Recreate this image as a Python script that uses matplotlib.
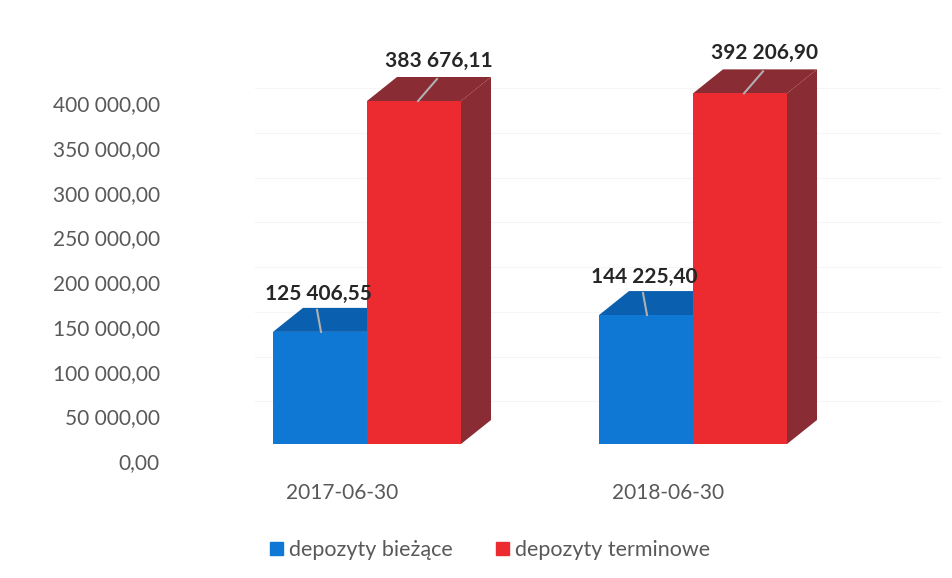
import matplotlib
matplotlib.use("Agg")
import matplotlib.pyplot as plt
from matplotlib.patches import Polygon, Patch

plt.rcParams['font.family'] = ['Lato', 'DejaVu Sans']

# dane
categories = ["2017-06-30", "2018-06-30"]
series = ["depozyty bieżące", "depozyty terminowe"]
biezace = [125406.55, 144225.40]
terminowe = [383676.11, 392206.90]
labels_biezace = ["125 406,55", "144 225,40"]
labels_terminowe = ["383 676,11", "392 206,90"]
yticks = [0, 50000, 100000, 150000, 200000, 250000, 300000, 350000, 400000]
ytick_labels = ["0,00", "50 000,00", "100 000,00", "150 000,00", "200 000,00",
                "250 000,00", "300 000,00", "350 000,00", "400 000,00"]

# kolory
front = ['#0f78d4', '#ec2b30']
dark = ['#0a5fae', '#8a2c33']
txt = '#595959'

W, H = 953, 578
fig = plt.figure(figsize=(W / 100, H / 100), dpi=100)

# geometria osi (piksele)
px_cat = 326.0
px_val = 357.6 / 400000
left_px, base_px = 204, 444
ax = fig.add_axes([left_px / W, (H - base_px) / H, 2 * px_cat / W, 400000 * px_val / H])
ax.set_xlim(-0.5, 1.5)
ax.set_ylim(0, 400000)
ax.axis('off')


def px2x(p):
    return p / px_cat


def px2y(p):
    return p / px_val


bw = px2x(94)
ddx, ddy = px2x(30), px2y(24)

# delikatne linie siatki
for v in yticks[1:]:
    ax.plot([px2x(255 - left_px) - 0.5, px2x(940 - left_px) - 0.5], [v + px2y(-2), v + px2y(-2)],
            color='#f5f5f5', lw=0.8, zorder=0, clip_on=False)

# etykiety osi Y
for v, t in zip(yticks, ytick_labels):
    ax.text(-0.5 - px2x(44), v - px2y(19), t, ha='right', va='center',
            fontsize=15, color=txt, clip_on=False)

# etykiety kategorii
for i, c in enumerate(categories):
    ax.text(i - px2x(25), -px2y(49), c, ha='center', va='center', fontsize=15,
            color=txt, clip_on=False)

# słupki 3D
all_vals = [biezace, terminowe]
all_labels = [labels_biezace, labels_terminowe]
lab_off = [(-2, 38), (25, 40)]
lead = [(1, -3), (4, 23)]
for i in range(len(categories)):
    for s in range(2):
        v = all_vals[s][i]
        xl = i - bw if s == 0 else i
        xr = xl + bw
        # bok
        if s == 1:
            ax.add_patch(Polygon([(xr, 0), (xr + ddx, ddy), (xr + ddx, v + ddy), (xr, v)],
                                 closed=True, color=dark[s], lw=0, zorder=2, clip_on=False))
        # góra
        ax.add_patch(Polygon([(xl, v), (xl + ddx, v + ddy), (xr + ddx, v + ddy), (xr, v)],
                             closed=True, color=dark[s], lw=0, zorder=2, clip_on=False))
        # przód
        ax.bar(xl, v, width=bw, align='edge', color=front[s], lw=0, zorder=3)
        cx = xl + bw / 2
        # linia odniesienia
        ax.plot([cx + px2x(lead[s][0]), cx + px2x(lead[s][1])], [v, v + px2y(22)],
                color='#b0b0b0', lw=1.5, zorder=4, clip_on=False)
        ax.text(cx + px2x(lab_off[s][0]), v + px2y(lab_off[s][1]), all_labels[s][i],
                ha='center', va='center', fontsize=15, fontweight='bold', color='#262626',
                zorder=5, clip_on=False)

# legenda
handles = [Patch(color=front[0], label=series[0]), Patch(color=front[1], label=series[1])]
fig.legend(handles=handles, loc='center', bbox_to_anchor=(490 / W, 1 - 550 / H), ncol=2,
           frameon=False, fontsize=15.5, handlelength=0.6, handleheight=0.6,
           handletextpad=0.3, columnspacing=2.0, labelcolor=txt)

fig.savefig("out.png", dpi=100)
